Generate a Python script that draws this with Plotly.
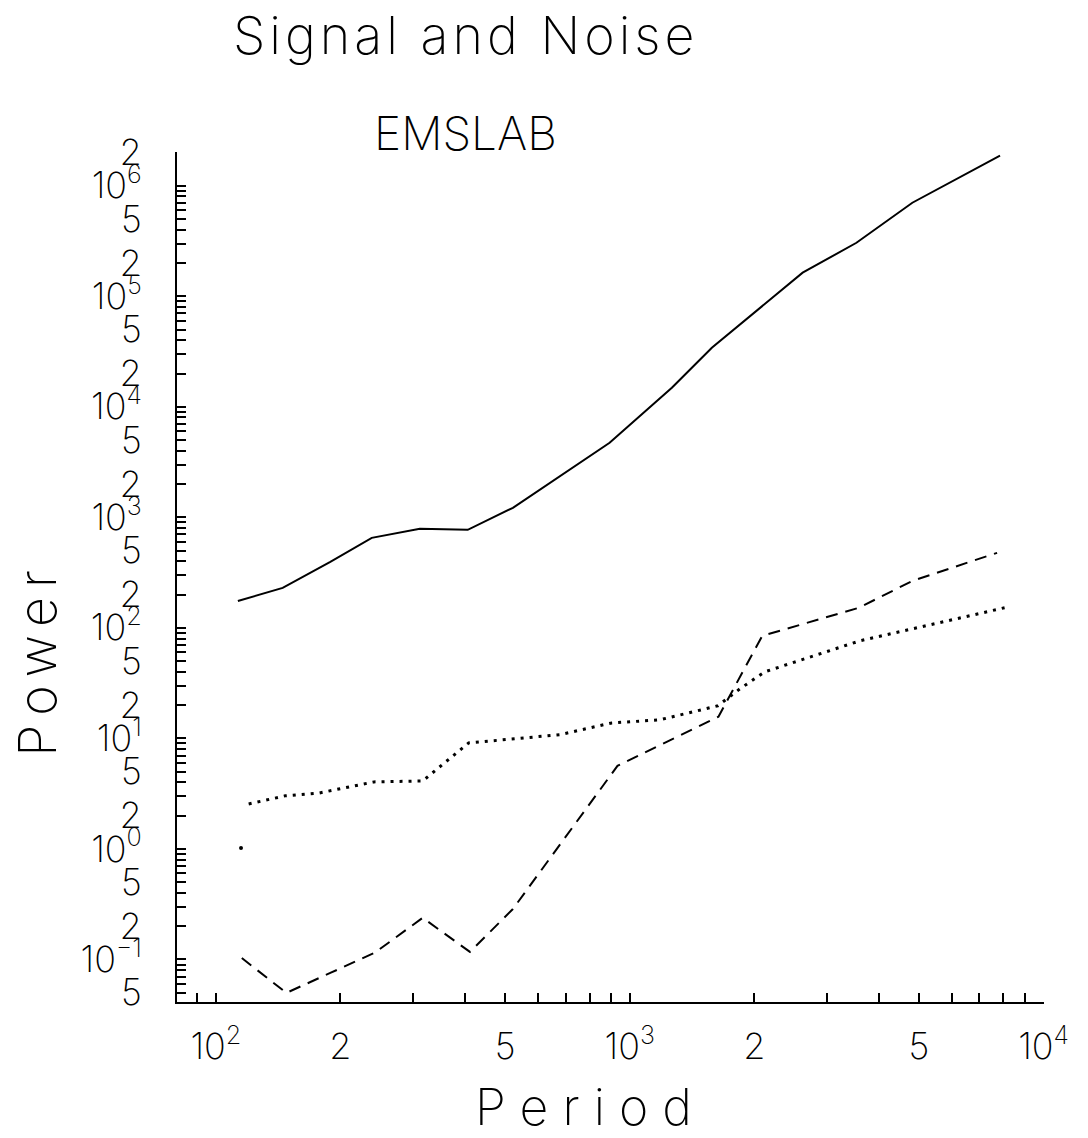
import plotly.graph_objects as go

# Signal power spectrum (solid)
signal_period = [113, 145, 189, 238, 311, 406, 522, 678, 894, 1264, 1579, 2617, 3530, 4818, 7848]
signal_power = [175, 230, 396, 652, 787, 771, 1219, 2375, 4724, 14860, 34200, 163300, 304800, 701500, 1868000]

# Noise estimate A (dashed)
noise_a_period = [115.5, 148, 189, 242, 316, 411, 522, 934, 1638, 2090, 3580, 4818, 7720]
noise_a_power = [0.103, 0.0498, 0.0755, 0.115, 0.238, 0.117, 0.286, 5.64, 15.7, 84.7, 152, 266, 477]

# Noise estimate B (dotted)
noise_b_period = [120, 147, 178, 241, 316, 408, 678, 905, 1181, 1632, 1844, 2119, 3594, 8050]
noise_b_power = [2.55, 3.02, 3.21, 4.04, 4.12, 9.10, 10.8, 13.8, 14.7, 19.7, 28.0, 40.0, 76.2, 152]

# Isolated lowest-period point of estimate B
noise_b_first_period = [115]
noise_b_first_power = [1.02]

FONT = "Inter"
INK = "black"

# Labelled ticks at 1, 2 and 5 x 10^n; the remaining 3..9 x 10^n are minor ticks
x_tickvals, x_ticktext, x_minor = [], [], []
for n in (1, 2, 3):
    for m in range(1, 10):
        v = m * 10 ** n
        if 85 <= v <= 9000:
            if m == 1:
                x_tickvals.append(v)
                x_ticktext.append(f"10<sup>{n}</sup>")
            elif m in (2, 5):
                x_tickvals.append(v)
                x_ticktext.append(str(m))
            else:
                x_minor.append(v)
x_tickvals.append(10000)
x_ticktext.append("10<sup>4</sup>")

y_tickvals, y_ticktext, y_minor = [], [], []
for n in range(-2, 7):
    for m in range(1, 10):
        v = m * 10.0 ** n
        if 0.042 <= v <= 2.01e6:
            if m == 1:
                exp = f"\u2212{-n}" if n < 0 else str(n)
                y_tickvals.append(v)
                y_ticktext.append(f"10<sup>{exp}</sup>")
            elif m in (2, 5):
                y_tickvals.append(v)
                y_ticktext.append(str(m))
            else:
                y_minor.append(v)

fig = go.Figure()
fig.add_trace(go.Scatter(x=signal_period, y=signal_power, mode="lines",
                         line=dict(color=INK, width=2), showlegend=False))
fig.add_trace(go.Scatter(x=noise_a_period, y=noise_a_power, mode="lines",
                         line=dict(color=INK, width=2, dash="12px,8px"), showlegend=False))
fig.add_trace(go.Scatter(x=noise_b_period, y=noise_b_power, mode="lines",
                         line=dict(color=INK, width=3, dash="3px,6px"), showlegend=False))
fig.add_trace(go.Scatter(x=noise_b_first_period, y=noise_b_first_power, mode="markers",
                         marker=dict(color=INK, size=4), showlegend=False))

axis_common = dict(
    type="log", showgrid=False, zeroline=False,
    showline=True, linecolor=INK, linewidth=2,
    ticks="inside", ticklen=9, tickwidth=1.5, tickcolor=INK,
    tickmode="array",
    tickfont=dict(family=FONT, size=36, color=INK, weight=200),
)
minor_common = dict(ticks="inside", ticklen=9, tickwidth=1.5, tickcolor=INK,
                    tickmode="array", showgrid=False)

fig.update_xaxes(**axis_common, range=[1.906, 4.001],
                 tickvals=x_tickvals, ticktext=x_ticktext, ticklabelstandoff=12,
                 minor=dict(**minor_common, tickvals=x_minor))
fig.update_yaxes(**axis_common, range=[-1.385, 6.305],
                 tickvals=y_tickvals, ticktext=y_ticktext, ticklabelstandoff=26,
                 minor=dict(**minor_common, tickvals=y_minor))

def label(text, x, y, size, angle=0):
    fig.add_annotation(text=text, x=x, y=y, xref="paper", yref="paper",
                       showarrow=False, textangle=angle,
                       xanchor="center", yanchor="middle",
                       font=dict(family=FONT, size=size, color=INK, weight=200))

label('<span style="letter-spacing:4px">Signal and Noise</span>', 0.3333, 1.1374, 52)
label('EMSLAB', 0.3333, 1.022, 46)
label('<span style="letter-spacing:9px">Power</span>', -0.1603, 0.4028, 52, -90)
label('<span style="letter-spacing:14px">Period</span>', 0.4764, -0.124, 50)

fig.update_layout(
    width=1088, height=1138,
    margin=dict(l=177, r=44, t=152, b=136),
    paper_bgcolor="white", plot_bgcolor="white",
)

fig.write_html("out.html")
